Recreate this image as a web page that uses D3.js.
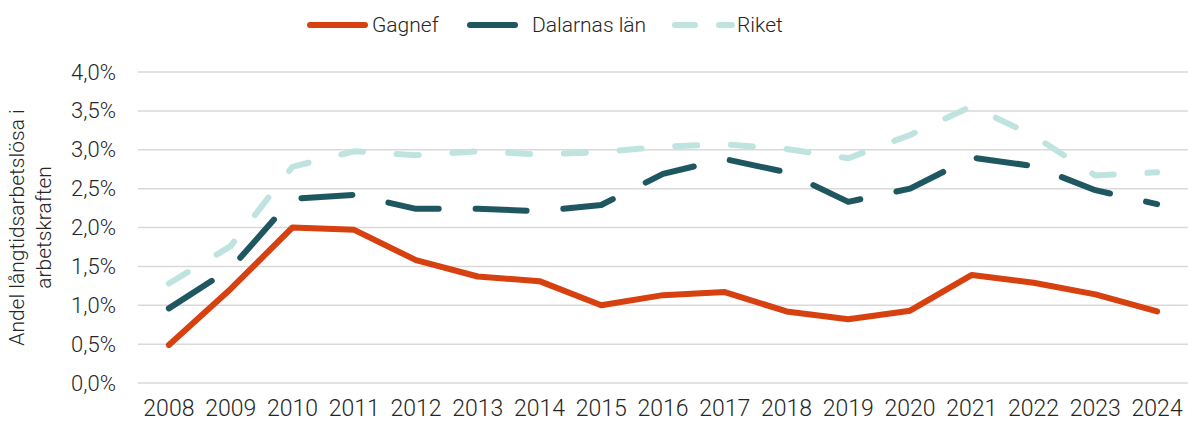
<!DOCTYPE html>
<html>
<head>
<meta charset="utf-8">
<script src="https://cdn.jsdelivr.net/npm/d3@7"></script>
<style>
  html, body { margin: 0; padding: 0; background: #fff; }
  svg { display: block; font-family: Roboto, "Open Sans", sans-serif; font-weight: 300; }
</style>
</head>
<body>
<svg id="chart" width="1188" height="423"></svg>
<script>
const years = ["2008","2009","2010","2011","2012","2013","2014","2015","2016","2017","2018","2019","2020","2021","2022","2023","2024"];
const gagnef   = [0.49, 1.21, 2.00, 1.97, 1.58, 1.37, 1.31, 1.00, 1.13, 1.17, 0.92, 0.82, 0.93, 1.39, 1.29, 1.14, 0.92];
const dalarnas = [0.96, 1.47, 2.37, 2.42, 2.24, 2.24, 2.21, 2.29, 2.69, 2.88, 2.71, 2.33, 2.50, 2.90, 2.79, 2.48, 2.30];
const riket    = [1.28, 1.76, 2.78, 2.98, 2.93, 2.98, 2.94, 2.97, 3.04, 3.07, 3.01, 2.89, 3.19, 3.56, 3.18, 2.67, 2.71];
const yTicks   = [0, 0.5, 1.0, 1.5, 2.0, 2.5, 3.0, 3.5, 4.0];
const seriesNames = ["Gagnef", "Dalarnas län", "Riket"];
const yTitle = ["Andel långtidsarbetslösa i", "arbetskraften"];

const svg = d3.select("#chart");
const mLeft = 138, mRight = 1188, mTop = 72, mBottom = 383;

const x = d3.scaleBand().domain(years).range([mLeft, mRight]);
const y = d3.scaleLinear().domain([0, 4]).range([mBottom, mTop]);
const fmt = v => d3.format(".1f")(v).replace(".", ",") + "%";

// gridlines
svg.append("g").selectAll("line").data(yTicks).join("line")
  .attr("x1", mLeft).attr("x2", mRight)
  .attr("y1", d => y(d)).attr("y2", d => y(d))
  .attr("stroke", "#d9d9d9").attr("stroke-width", 1.5);

// y axis labels
const yAxis = svg.append("g").attr("transform", `translate(${mLeft},0)`)
  .call(d3.axisLeft(y).tickValues(yTicks).tickFormat(fmt).tickSize(0).tickPadding(22));
yAxis.select(".domain").remove();
yAxis.selectAll("text").attr("font-size", 22).attr("fill", "#262626")
  .attr("font-family", "Roboto, sans-serif").attr("font-weight", 300);

// x axis labels
const xAxis = svg.append("g").attr("transform", `translate(0,${mBottom})`)
  .call(d3.axisBottom(x).tickSize(0).tickPadding(17));
xAxis.select(".domain").remove();
xAxis.selectAll("text").attr("font-size", 23).attr("fill", "#262626")
  .attr("font-family", "Roboto, sans-serif").attr("font-weight", 300);

// y title
const yt = svg.append("text")
  .attr("transform", `translate(24,${(mTop + mBottom) / 2}) rotate(-90)`)
  .attr("text-anchor", "middle").attr("font-size", 21).attr("fill", "#262626");
yt.selectAll("tspan").data(yTitle).join("tspan")
  .attr("x", 0).attr("dy", (d, i) => i === 0 ? 0 : 27).text(d => d);

const line = d3.line().x((d, i) => x(years[i]) + x.bandwidth() / 2).y(d => y(d));

const styles = [
  { data: gagnef, color: "#d7400f", dash: null },
  { data: dalarnas, color: "#1f5760", dash: "51,36.9" },
  { data: riket, color: "#bfe4df", dash: "22,33.8" }
];

styles.forEach(s => {
  svg.append("path").datum(s.data)
    .attr("d", line)
    .attr("fill", "none")
    .attr("stroke", s.color)
    .attr("stroke-width", 6)
    .attr("stroke-linecap", "round")
    .attr("stroke-linejoin", "round")
    .attr("stroke-dasharray", s.dash);
});

// legend
const legend = [
  { name: seriesNames[0], color: "#d7400f", dash: null, x1: 310, x2: 365, tx: 372 },
  { name: seriesNames[1], color: "#1f5760", dash: null, x1: 470, x2: 515, tx: 532 },
  { name: seriesNames[2], color: "#bfe4df", dash: "20,24", x1: 675, x2: 732, tx: 737 }
];
const lg = svg.append("g");
legend.forEach(l => {
  lg.append("line").attr("x1", l.x1).attr("x2", l.x2).attr("y1", 25).attr("y2", 25)
    .attr("stroke", l.color).attr("stroke-width", 6).attr("stroke-linecap", "round")
    .attr("stroke-dasharray", l.dash);
  lg.append("text").attr("x", l.tx).attr("y", 25).attr("dy", "0.35em")
    .attr("font-size", 21).attr("fill", "#262626").text(l.name);
});
</script>
</body>
</html>
